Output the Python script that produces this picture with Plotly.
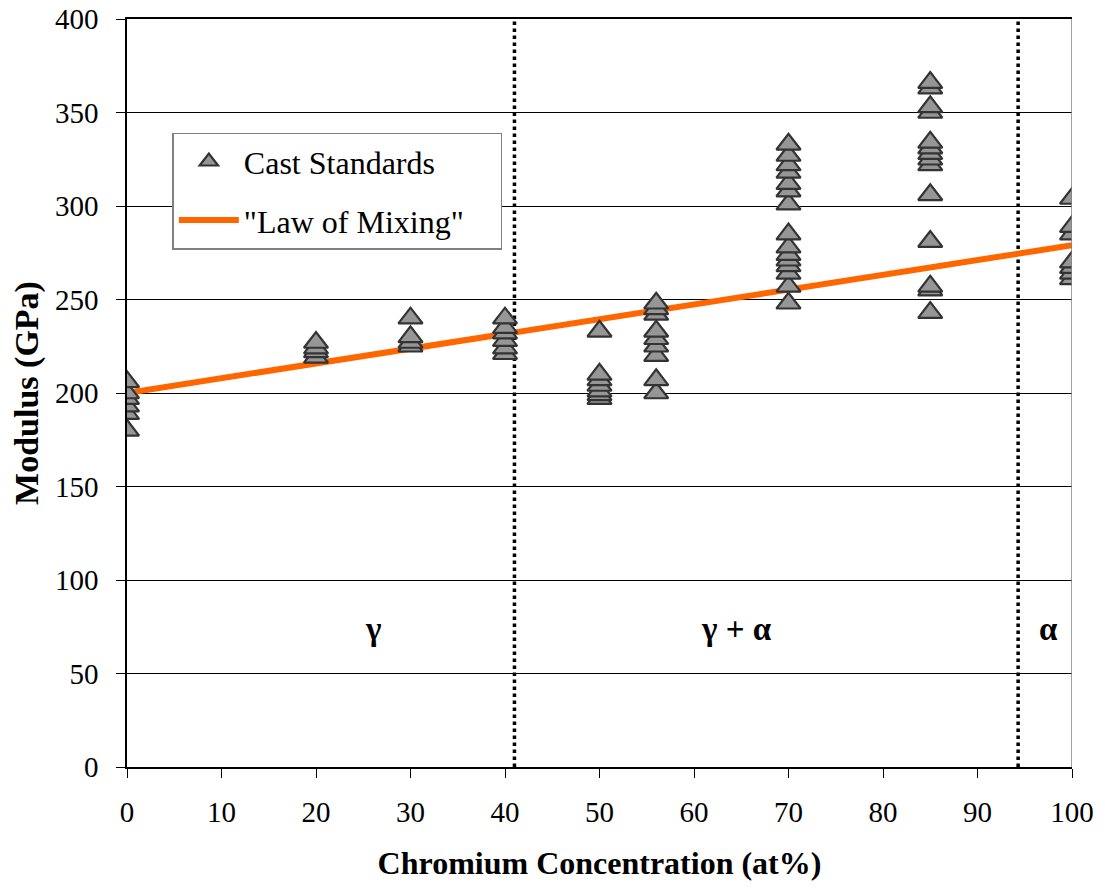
import plotly.graph_objects as go

# Cast standard measurements: composition (at% Cr) -> modulus values (GPa)
cr_0 = [180, 189, 193, 197, 200, 206]
cr_20 = [219, 222, 224, 227]
cr_30 = [225, 227, 230, 240]
cr_40 = [221, 224, 228, 232, 235, 240]
cr_50 = [197, 199, 201, 204, 207, 210, 233]
cr_56 = [200, 207, 220, 225, 229, 233, 242, 245, 248]
cr_70 = [248, 257, 264, 268, 271, 274, 278, 285, 301, 308, 312, 318, 322, 327, 333]
cr_85 = [243, 255, 257, 281, 306, 322, 325, 328, 331, 334, 350, 353, 363, 366]
cr_100 = [261, 264, 267, 270, 285, 289, 304]

groups = [(0, cr_0), (20, cr_20), (30, cr_30), (40, cr_40), (50, cr_50),
          (56, cr_56), (70, cr_70), (85, cr_85), (100, cr_100)]
cast_x = [c for c, vals in groups for _ in vals]
cast_y = [v for c, vals in groups for v in vals]

# Law of mixing endpoints
mix_x = [0, 100]
mix_y = [200, 279]

# Axis ticks
x_ticks = [0, 10, 20, 30, 40, 50, 60, 70, 80, 90, 100]
y_ticks = [0, 50, 100, 150, 200, 250, 300, 350, 400]

# Phase boundaries and labels
boundaries = [41, 94.3]
phase_labels = ["γ", "γ + α", "α"]
phase_x = [26, 64.5, 97.5]
phase_y = 74

FONT = "Liberation Serif, Times New Roman, serif"
PAD = "\u00a0" * 4

fig = go.Figure()

for xb in boundaries:
    fig.add_trace(go.Scatter(x=[xb, xb], y=[0, 400], mode="lines",
                             line=dict(color="black", width=3.5, dash="dot"),
                             showlegend=False, hoverinfo="skip"))

fig.add_trace(go.Scatter(x=mix_x, y=mix_y, mode="lines", name='"Law of Mixing"' + PAD,
                         line=dict(color="#FF6600", width=6), legendgroup="b",
                         legendrank=2))

fig.add_trace(go.Scatter(x=cast_x, y=cast_y, mode="markers", name="Cast Standards",
                         marker=dict(symbol="triangle-up", size=21, color="#969696",
                                     line=dict(color="#333333", width=2.2)),
                         legendgroup="a", legendrank=1))

for lab, px in zip(phase_labels, phase_x):
    fig.add_annotation(x=px, y=phase_y, text="<b>%s</b>" % lab, showarrow=False,
                       font=dict(family=FONT, size=33, color="black"))

fig.update_layout(
    width=1105, height=888,
    margin=dict(l=119, r=41, t=11, b=129),
    plot_bgcolor="white", paper_bgcolor="white",
    font=dict(family=FONT, size=29, color="black"),
    showlegend=True,
    legend=dict(x=0.048, y=0.848, xanchor="left", yanchor="top",
                bgcolor="white", bordercolor="#808080", borderwidth=1.5,
                font=dict(family=FONT, size=32), tracegroupgap=14,
                traceorder="grouped", itemwidth=60),
    xaxis=dict(range=[0, 100], tickmode="array", tickvals=x_ticks,
               showgrid=False, zeroline=False, showline=True, linecolor="black",
               linewidth=1.5, ticks="outside", ticklen=9, tickcolor="black",
               tickfont=dict(size=29), mirror=True, ticklabelstandoff=9,
               ticklabeloverflow="allow", automargin=False,
               title=dict(text="<b>Chromium Concentration (at%)</b>",
                          font=dict(size=32), standoff=25)),
    yaxis=dict(range=[0, 400], tickmode="array", tickvals=y_ticks,
               showgrid=True, gridcolor="black", gridwidth=1, zeroline=False,
               showline=True, linecolor="black", linewidth=1.5, ticks="outside",
               ticklen=9, tickcolor="black", tickfont=dict(size=29),
               ticklabelstandoff=12, ticklabeloverflow="allow", automargin=False,
               title=dict(text="<b>Modulus (GPa)</b>", font=dict(size=34), standoff=8)),
)

# right border of plot area
fig.add_shape(type="line", xref="x", yref="y", x0=100, x1=100, y0=0, y1=400,
              line=dict(color="#808080", width=1.5))

fig.write_html("out.html")
